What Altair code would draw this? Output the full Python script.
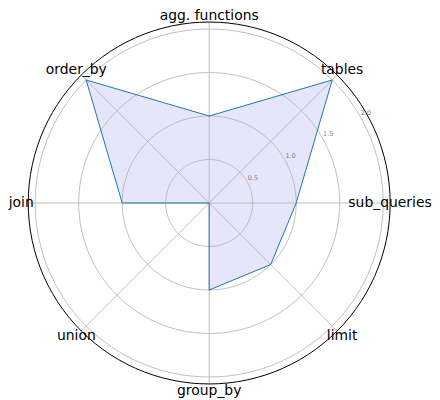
import altair as alt
import pandas as pd

categories = ["agg. functions", "tables", "sub_queries", "limit",
              "group_by", "union", "join", "order_by"]
values = [1.0, 2.0, 1.0, 1.0, 1.0, 0.0, 1.0, 2.0]
ticks = [0.5, 1.0, 1.5, 2.0]
tick_labels = ["0.5", "1.0", "1.5", "2.0"]
r_max = 2.08
label_r = 2.16
tick_label_offset = 0.08

n = len(categories)
poly = pd.DataFrame({"cat": categories, "value": values, "idx": list(range(n))})
spokes = pd.DataFrame({"idx": list(range(n)), "r": [r_max] * n})
labels = pd.DataFrame({"cat": categories, "idx": list(range(n)), "r": [label_r] * n})
grid = pd.DataFrame([(t, d) for t in ticks for d in range(0, 361, 3)], columns=["r", "deg"])
outer = pd.DataFrame([(r_max, d) for d in range(0, 361, 3)], columns=["r", "deg"])
tlab = pd.DataFrame({"r": ticks, "text": tick_labels})

px = 87.0
cx, cy = 201.2, 195.0
W, H = 424, 392
xmax = (W - cx) / px
ymax = cy / px
xsc = alt.Scale(domain=[-cx / px, xmax], nice=False, zero=False)
ysc = alt.Scale(domain=[-(H - cy) / px, ymax], nice=False, zero=False)
X = alt.X("x:Q", scale=xsc, axis=None)
Y = alt.Y("y:Q", scale=ysc, axis=None)

ang_idx = "datum.idx * 2 * PI / %d" % n

poly_base = alt.Chart(poly).transform_calculate(
    ang=ang_idx,
    x="datum.value * sin(datum.ang)",
    y="datum.value * cos(datum.ang)",
)
fill_layer = poly_base.mark_line(
    interpolate="linear-closed", fill="#e6e6fa", strokeOpacity=0
).encode(x=X, y=Y, order="idx:Q")
line_layer = poly_base.mark_line(
    interpolate="linear-closed", color="#1f77b4", strokeWidth=1
).encode(x=X, y=Y, order="idx:Q")

grid_layer = alt.Chart(grid).transform_calculate(
    x="datum.r * sin(datum.deg * PI / 180)",
    y="datum.r * cos(datum.deg * PI / 180)",
).mark_line(color="#b0b0b0", strokeWidth=0.8).encode(
    x=X, y=Y, detail="r:N", order="deg:Q"
)

outer_layer = alt.Chart(outer).transform_calculate(
    x="datum.r * sin(datum.deg * PI / 180)",
    y="datum.r * cos(datum.deg * PI / 180)",
).mark_line(color="black", strokeWidth=1).encode(x=X, y=Y, order="deg:Q")

spoke_layer = alt.Chart(spokes).transform_calculate(
    ang=ang_idx,
    x0="0",
    y0="0",
    x="datum.r * sin(datum.ang)",
    y="datum.r * cos(datum.ang)",
).mark_rule(color="#b0b0b0", strokeWidth=0.8).encode(
    x=alt.X("x0:Q", scale=xsc, axis=None),
    y=alt.Y("y0:Q", scale=ysc, axis=None),
    x2="x:Q",
    y2="y:Q",
)

# keep the outer labels inside the drawing area
label_layer = alt.Chart(labels).transform_calculate(
    ang=ang_idx,
    x="min(datum.r * sin(datum.ang), %f)" % (xmax - 42.0 / px),
    y="min(datum.r * cos(datum.ang), %f)" % (ymax - 8.0 / px),
).mark_text(font="DejaVu Sans", fontSize=13.9, color="black",
            align="center", baseline="middle").encode(x=X, y=Y, text="cat:N")

tick_layer = alt.Chart(tlab).transform_calculate(
    rr="datum.r + %f" % tick_label_offset,
    x="datum.rr * sin(PI / 3)",
    y="datum.rr * cos(PI / 3)",
).mark_text(font="DejaVu Sans", fontSize=6.5, color="#808080",
            align="center", baseline="middle").encode(x=X, y=Y, text="text:N")

chart = alt.layer(
    fill_layer, grid_layer, spoke_layer, outer_layer, line_layer,
    label_layer, tick_layer
).properties(width=W, height=H, padding=0, autosize="none").configure_view(strokeWidth=0)

chart.save("out.html", embed_options={"renderer": "svg", "actions": False})
